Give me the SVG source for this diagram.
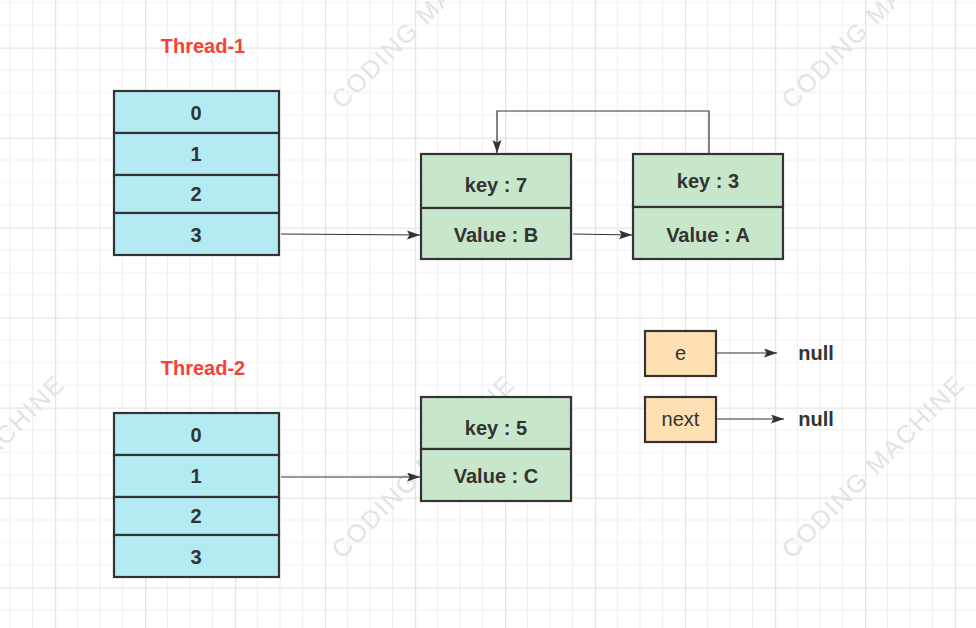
<svg xmlns="http://www.w3.org/2000/svg" width="976" height="628" viewBox="0 0 976 628">
<defs>
<pattern id="grid" x="55" y="47.5" width="90" height="90" patternUnits="userSpaceOnUse">
<path d="M22.5,0V90M45,0V90M67.5,0V90M0,22.5H90M0,45H90M0,67.5H90" stroke="#f0f0f0" stroke-width="1.2" fill="none"/>
<path d="M0.5,0V90M0,0.5H90" stroke="#e4e4e4" stroke-width="1.4" fill="none"/>
</pattern>
<marker id="arr" markerWidth="14" markerHeight="10" refX="13" refY="4.5" orient="auto" markerUnits="userSpaceOnUse">
<path d="M0,0 L13,4.5 L0,9 L2.5,4.5 z" fill="#333333"/>
</marker>
<style>
.cell{stroke:#333333;stroke-width:2.2}
.arr{fill:#b4ebf3}
.grn{fill:#c8e6c9}
.org{fill:#ffe0b2}
.t{font-family:"Liberation Sans",Arial,sans-serif;font-size:20px;fill:#333333;text-anchor:middle}
.b{font-weight:bold}
.red{font-family:"Liberation Sans",Arial,sans-serif;font-size:20px;font-weight:bold;fill:#f4413a;text-anchor:middle}
.wm{font-family:"Liberation Sans",Arial,sans-serif;font-size:25px;fill:#e3e3e3}
.ln{stroke:#333333;stroke-width:1.2;fill:none}
</style>
</defs>
<rect width="976" height="628" fill="#ffffff"/>
<rect width="976" height="628" fill="url(#grid)"/>
<g id="watermarks">
<text class="wm" transform="translate(342,110) rotate(-45)" textLength="245">CODING  MACHINE</text>
<text class="wm" transform="translate(792,110) rotate(-45)" textLength="245">CODING  MACHINE</text>
<text class="wm" transform="translate(-108,560) rotate(-45)" textLength="245">CODING  MACHINE</text>
<text class="wm" transform="translate(342,560) rotate(-45)" textLength="245">CODING  MACHINE</text>
<text class="wm" transform="translate(792,560) rotate(-45)" textLength="245">CODING  MACHINE</text>
</g>
<g id="thread1-label"><text class="red" x="203" y="53">Thread-1</text></g>
<g id="thread2-label"><text class="red" x="203" y="375">Thread-2</text></g>
<g id="table1">
<rect class="cell arr" x="114" y="91" width="165" height="42"/>
<rect class="cell arr" x="114" y="133" width="165" height="42"/>
<rect class="cell arr" x="114" y="175" width="165" height="38"/>
<rect class="cell arr" x="114" y="213" width="165" height="42"/>
<text class="t b" x="196" y="120">0</text>
<text class="t b" x="196" y="161">1</text>
<text class="t b" x="196" y="201">2</text>
<text class="t b" x="196" y="242">3</text>
</g>
<g id="table2">
<rect class="cell arr" x="114" y="413" width="165" height="42"/>
<rect class="cell arr" x="114" y="455" width="165" height="42"/>
<rect class="cell arr" x="114" y="497" width="165" height="38"/>
<rect class="cell arr" x="114" y="535" width="165" height="42"/>
<text class="t b" x="196" y="442">0</text>
<text class="t b" x="196" y="483">1</text>
<text class="t b" x="196" y="523">2</text>
<text class="t b" x="196" y="564">3</text>
</g>
<g id="nodeB">
<rect class="cell grn" x="421" y="154" width="150" height="54"/>
<rect class="cell grn" x="421" y="208" width="150" height="51"/>
<text class="t b" x="496" y="192">key : 7</text>
<text class="t b" x="496" y="242">Value : B</text>
</g>
<g id="nodeA">
<rect class="cell grn" x="633" y="154" width="150" height="53"/>
<rect class="cell grn" x="633" y="207" width="150" height="52"/>
<text class="t b" x="708" y="188">key : 3</text>
<text class="t b" x="708" y="242">Value : A</text>
</g>
<g id="nodeC">
<rect class="cell grn" x="421" y="397" width="150" height="52"/>
<rect class="cell grn" x="421" y="449" width="150" height="52"/>
<text class="t b" x="496" y="435">key : 5</text>
<text class="t b" x="496" y="483">Value : C</text>
</g>
<g id="e">
<rect class="cell org" x="645" y="331" width="71" height="45"/>
<text class="t" x="680.5" y="360">e</text>
</g>
<g id="next">
<rect class="cell org" x="645" y="397" width="71" height="45"/>
<text class="t" x="680.5" y="426">next</text>
</g>
<g id="null1"><text class="t b" x="816" y="360">null</text></g>
<g id="null2"><text class="t b" x="816" y="426">null</text></g>
<g id="connectors">
<path class="ln" d="M281,234 L420,235" marker-end="url(#arr)"/>
<path class="ln" d="M573,234 L632,235" marker-end="url(#arr)"/>
<path class="ln" d="M709,153 V111 H497 V153" marker-end="url(#arr)"/>
<path class="ln" d="M281,477 L420,477" marker-end="url(#arr)"/>
<path class="ln" d="M717,353 H777" marker-end="url(#arr)"/>
<path class="ln" d="M717,419 H784" marker-end="url(#arr)"/>
</g>
</svg>
